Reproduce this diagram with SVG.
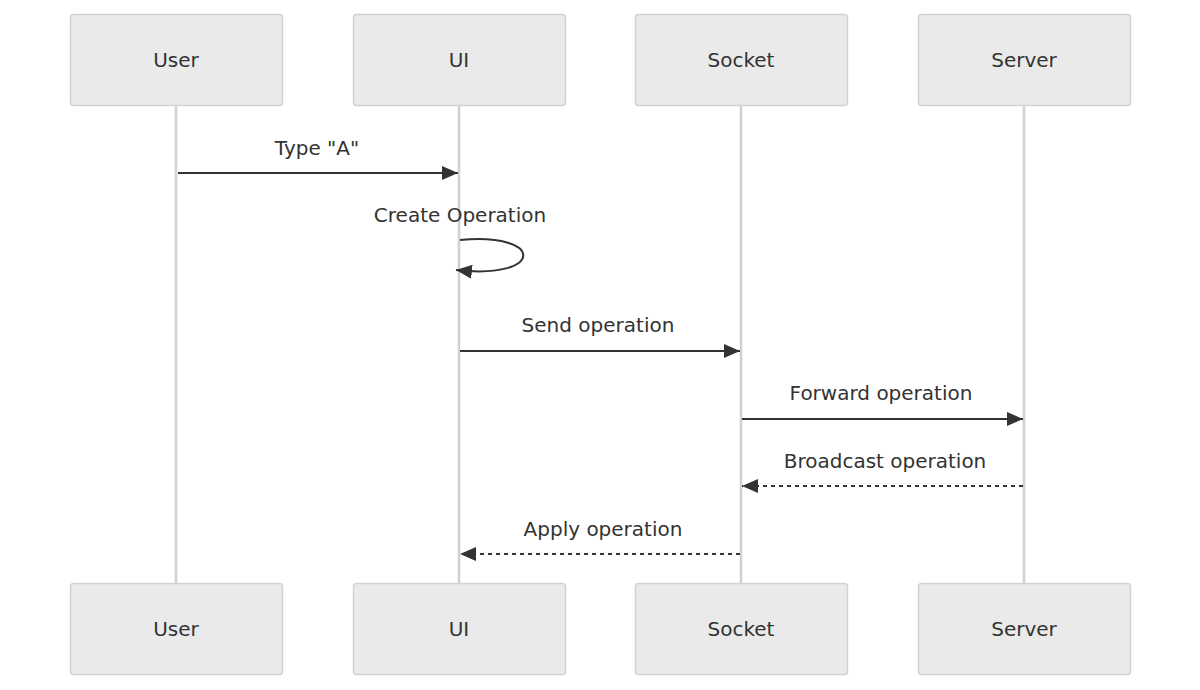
<svg xmlns="http://www.w3.org/2000/svg" width="1200" height="690" viewBox="0 0 1200 690">
<style>
.actor{fill:#eaeaea;stroke:#d3d3d3;stroke-width:1.5}
.life{stroke:#d0d0d0;stroke-width:2.5}
.lbl{font-family:"DejaVu Sans",sans-serif;font-size:20px;fill:#333;text-anchor:middle}
.msg{stroke:#333;stroke-width:2;fill:none}
.dash{stroke-dasharray:4,4}
</style>
<defs>
<marker id="ah" viewBox="0 0 16 14" refX="16" refY="7" markerWidth="16" markerHeight="14" markerUnits="userSpaceOnUse" orient="auto">
<path d="M0,0 L16,7 L0,14 Z" fill="#333"/>
</marker>
</defs>
<rect width="1200" height="690" fill="#fff"/>
<g id="lifelines">
<line class="life" x1="176" y1="105" x2="176" y2="583"/>
<line class="life" x1="459" y1="105" x2="459" y2="583"/>
<line class="life" x1="741" y1="105" x2="741" y2="583"/>
<line class="life" x1="1024" y1="105" x2="1024" y2="583"/>
</g>
<g id="user-top"><rect class="actor" x="70.5" y="14.5" width="212" height="91" rx="3"/><text class="lbl" x="176" y="67">User</text></g>
<g id="ui-top"><rect class="actor" x="353.5" y="14.5" width="212" height="91" rx="3"/><text class="lbl" x="459" y="67">UI</text></g>
<g id="socket-top"><rect class="actor" x="635.5" y="14.5" width="212" height="91" rx="3"/><text class="lbl" x="741" y="67">Socket</text></g>
<g id="server-top"><rect class="actor" x="918.5" y="14.5" width="212" height="91" rx="3"/><text class="lbl" x="1024" y="67">Server</text></g>
<g id="user-bottom"><rect class="actor" x="70.5" y="583.5" width="212" height="91" rx="3"/><text class="lbl" x="176" y="636">User</text></g>
<g id="ui-bottom"><rect class="actor" x="353.5" y="583.5" width="212" height="91" rx="3"/><text class="lbl" x="459" y="636">UI</text></g>
<g id="socket-bottom"><rect class="actor" x="635.5" y="583.5" width="212" height="91" rx="3"/><text class="lbl" x="741" y="636">Socket</text></g>
<g id="server-bottom"><rect class="actor" x="918.5" y="583.5" width="212" height="91" rx="3"/><text class="lbl" x="1024" y="636">Server</text></g>
<g id="connectors">
<line class="msg" x1="178" y1="173" x2="458" y2="173" marker-end="url(#ah)"/>
<text class="lbl" x="317" y="155">Type "A"</text>
<path class="msg" d="M460,240 C545,232 545,280 456,270" marker-end="url(#ah)"/>
<text class="lbl" x="460" y="222">Create Operation</text>
<line class="msg" x1="460" y1="351" x2="740" y2="351" marker-end="url(#ah)"/>
<text class="lbl" x="598" y="332">Send operation</text>
<line class="msg" x1="742" y1="419" x2="1023" y2="419" marker-end="url(#ah)"/>
<text class="lbl" x="881" y="400">Forward operation</text>
<line class="msg dash" x1="1023" y1="486" x2="742" y2="486" marker-end="url(#ah)"/>
<text class="lbl" x="885" y="468">Broadcast operation</text>
<line class="msg dash" x1="740" y1="554" x2="460" y2="554" marker-end="url(#ah)"/>
<text class="lbl" x="603" y="536">Apply operation</text>
</g>
</svg>
